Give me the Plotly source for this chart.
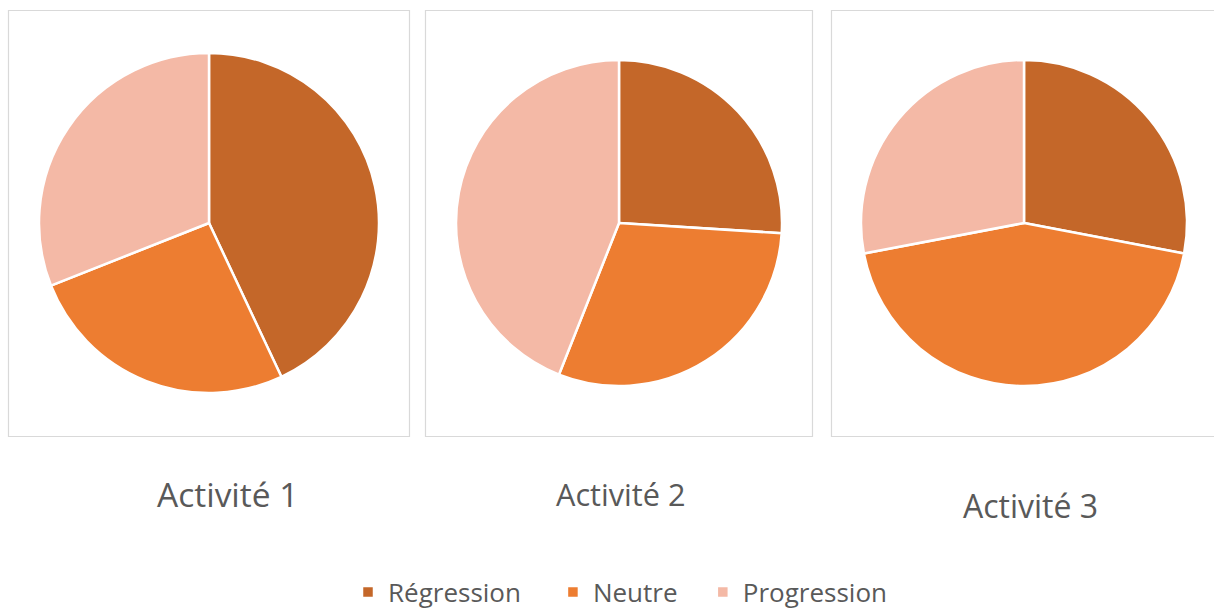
import plotly.graph_objects as go

W, H = 1214, 611

categories = ["Régression", "Neutre", "Progression"]
colors = ["#C46729", "#ED7D31", "#F4B9A6"]
activities = ["Activité 1", "Activité 2", "Activité 3"]
values_act1 = [43, 26, 31]
values_act2 = [26, 30, 44]
values_act3 = [28, 44, 28]
all_values = [values_act1, values_act2, values_act3]

# layout (pixels): pie centre x, centre y, radius
pie_geo = [(209, 223, 170), (619, 223, 163), (1024, 223, 163)]
box_geo = [(8.5, 409.5), (425.5, 812.5), (831.5, 1220)]
title_geo = [(227, 494, 33.5), (621, 494, 30.7), (1030, 505, 32)]
# non-breaking spaces widen the legend entries like the original
legend_pad = ["\u00a0\u00a0\u00a0\u00a0", "\u00a0\u00a0\u00a0", ""]


def px_x(x):
    return x / W


def px_y(y):
    return 1 - y / H


fig = go.Figure()
for i, (vals, (cx, cy, r)) in enumerate(zip(all_values, pie_geo)):
    fig.add_trace(go.Pie(
        labels=[c + p for c, p in zip(categories, legend_pad)],
        values=vals,
        sort=False,
        direction="clockwise",
        rotation=0,
        textinfo="none",
        hoverinfo="label+percent",
        marker=dict(colors=colors, line=dict(color="white", width=2.5)),
        domain=dict(x=[px_x(cx - r), px_x(cx + r)], y=[px_y(cy + r), px_y(cy - r)]),
        showlegend=(i == 0),
        name=activities[i],
    ))

shapes = []
for x0, x1 in box_geo:
    shapes.append(dict(type="rect", xref="paper", yref="paper",
                       x0=px_x(x0), x1=px_x(x1), y0=px_y(436.5), y1=px_y(10.5),
                       line=dict(color="#D9D9D9", width=1.2), fillcolor="rgba(0,0,0,0)",
                       layer="below"))

annotations = []
for name, (tx, ty, fs) in zip(activities, title_geo):
    annotations.append(dict(text=name, x=px_x(tx), y=px_y(ty), xref="paper", yref="paper",
                            xanchor="center", yanchor="middle", showarrow=False,
                            font=dict(family="Open Sans", size=fs, color="#595959")))

fig.update_layout(
    width=W, height=H,
    margin=dict(l=0, r=0, t=0, b=0, autoexpand=False),
    paper_bgcolor="white",
    plot_bgcolor="white",
    shapes=shapes,
    annotations=annotations,
    legend=dict(orientation="h", x=px_x(348), y=px_y(592), xanchor="left", yanchor="middle",
                font=dict(family="Open Sans", size=26, color="#595959"),
                traceorder="normal", itemclick=False),
)

fig.write_html("out.html")
